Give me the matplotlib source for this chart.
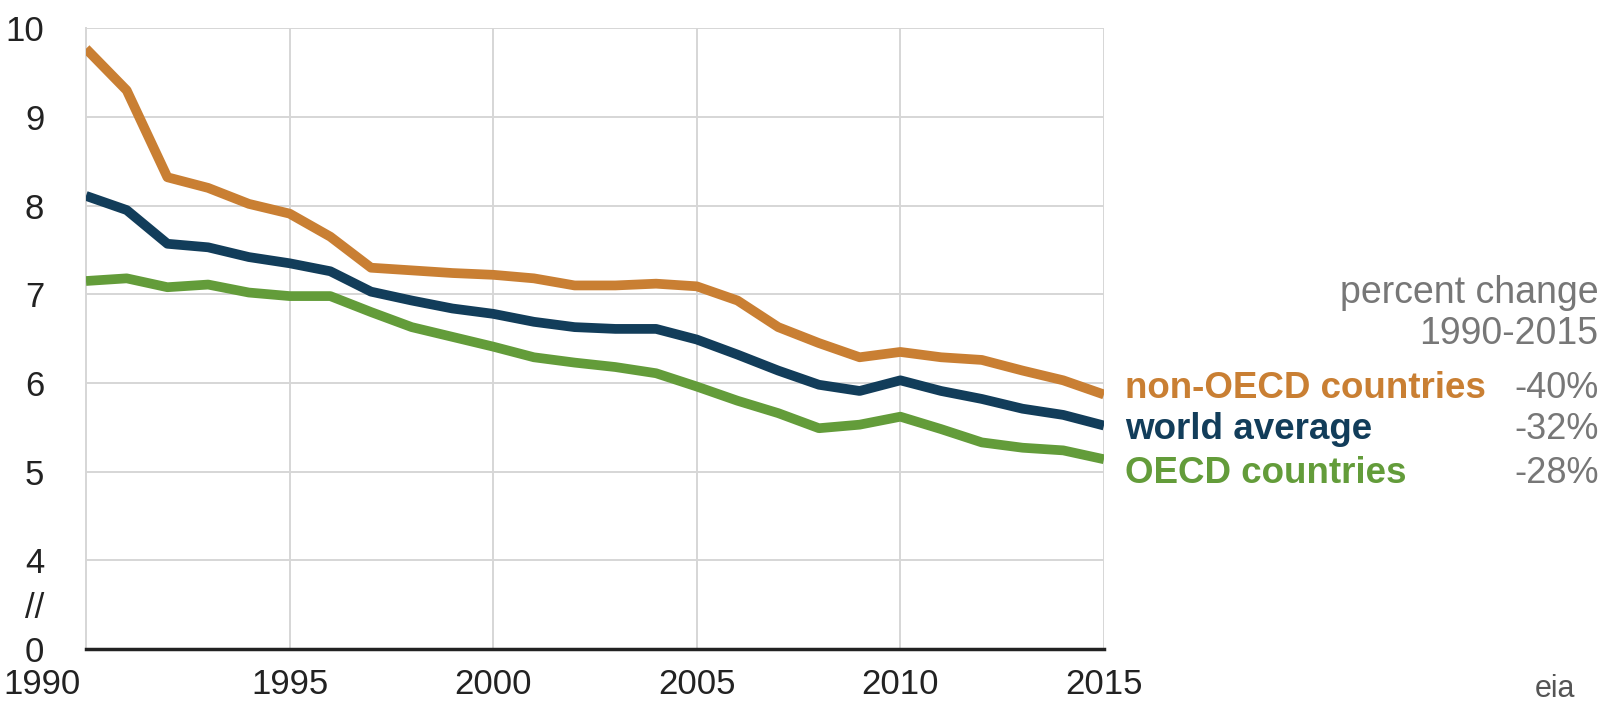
import numpy as np
import matplotlib.pyplot as plt
from matplotlib.transforms import ScaledTranslation

years = list(range(1990, 2016))

non_oecd = [9.77, 9.30, 8.32, 8.20, 8.02, 7.91, 7.65, 7.30, 7.27, 7.24, 7.22, 7.18, 7.10,
            7.10, 7.12, 7.09, 6.93, 6.63, 6.45, 6.29, 6.35, 6.29, 6.26, 6.14, 6.03, 5.87]
world = [8.11, 7.95, 7.57, 7.53, 7.42, 7.35, 7.26, 7.03, 6.93, 6.84, 6.78, 6.69, 6.63,
         6.61, 6.61, 6.49, 6.32, 6.14, 5.98, 5.91, 6.03, 5.91, 5.82, 5.71, 5.64, 5.52]
oecd = [7.15, 7.18, 7.08, 7.11, 7.02, 6.98, 6.98, 6.80, 6.63, 6.52, 6.41, 6.29, 6.23,
        6.18, 6.11, 5.96, 5.80, 5.66, 5.49, 5.53, 5.62, 5.48, 5.33, 5.27, 5.24, 5.14]

series_names = ["non-OECD countries", "world average", "OECD countries"]
pct_change = ["-40%", "-32%", "-28%"]
colors = ["#c97f33", "#123d5a", "#639c3a"]

# y axis is broken: the bottom of the plot (3) stands for 0
ytick_pos = [3, 3.5, 4, 5, 6, 7, 8, 9, 10]
ytick_lab = ["0", "//", "4", "5", "6", "7", "8", "9", "10"]
xticks = [1990, 1995, 2000, 2005, 2010, 2015]

plt.rcParams["font.family"] = ["Liberation Sans", "DejaVu Sans"]

fig = plt.figure(figsize=(16.1, 7.07), dpi=100)
ax = fig.add_axes([0.0534, 0.082, 0.6323, 0.878])

for vals, c in zip([non_oecd, world, oecd], colors):
    ax.plot(years, vals, color=c, lw=7, solid_capstyle="butt", solid_joinstyle="round", zorder=3)

ax.set_xlim(1990, 2015)
ax.set_ylim(3, 10)
ax.set_xticks(xticks)
ax.set_yticks(ytick_pos)
ax.set_yticklabels(ytick_lab)
for y in [4, 5, 6, 7, 8, 9, 10]:
    ax.axhline(y, color="#d6d6d6", lw=1.4, zorder=1)
for x in xticks[1:]:
    ax.axvline(x, color="#d6d6d6", lw=1.4, zorder=1)

for s in ["top", "right"]:
    ax.spines[s].set_visible(False)
ax.spines["left"].set_color("#d6d6d6")
ax.spines["left"].set_linewidth(1.4)
ax.spines["bottom"].set_color("#222222")
ax.spines["bottom"].set_linewidth(2.5)
ax.tick_params(length=0, labelsize=25, colors="#222222")
ax.tick_params(axis="y", pad=30)
ax.tick_params(axis="x", pad=14)

# shift the first year label left so it sits under the axis corner
fig.canvas.draw()
first = ax.get_xticklabels()[0]
first.set_transform(first.get_transform() + ScaledTranslation(-0.44, 0, fig.dpi_scale_trans))

# end-of-line labels with percent change
fig.text(0.993, 0.586, "percent change", ha="right", va="center", fontsize=27, color="#777777")
fig.text(0.993, 0.527, "1990-2015", ha="right", va="center", fontsize=27, color="#777777")
label_y = [0.450, 0.392, 0.330]
for name, pc, c, y in zip(series_names, pct_change, colors, label_y):
    fig.text(0.699, y, name, ha="left", va="center", fontsize=26.5, fontweight="bold", color=c)
    fig.text(0.993, y, pc, ha="right", va="center", fontsize=26, color="#777777")

fig.text(0.953, 0.004, "eia", ha="left", va="bottom", fontsize=22, color="#555555")

fig.savefig("out.png", dpi=100)
